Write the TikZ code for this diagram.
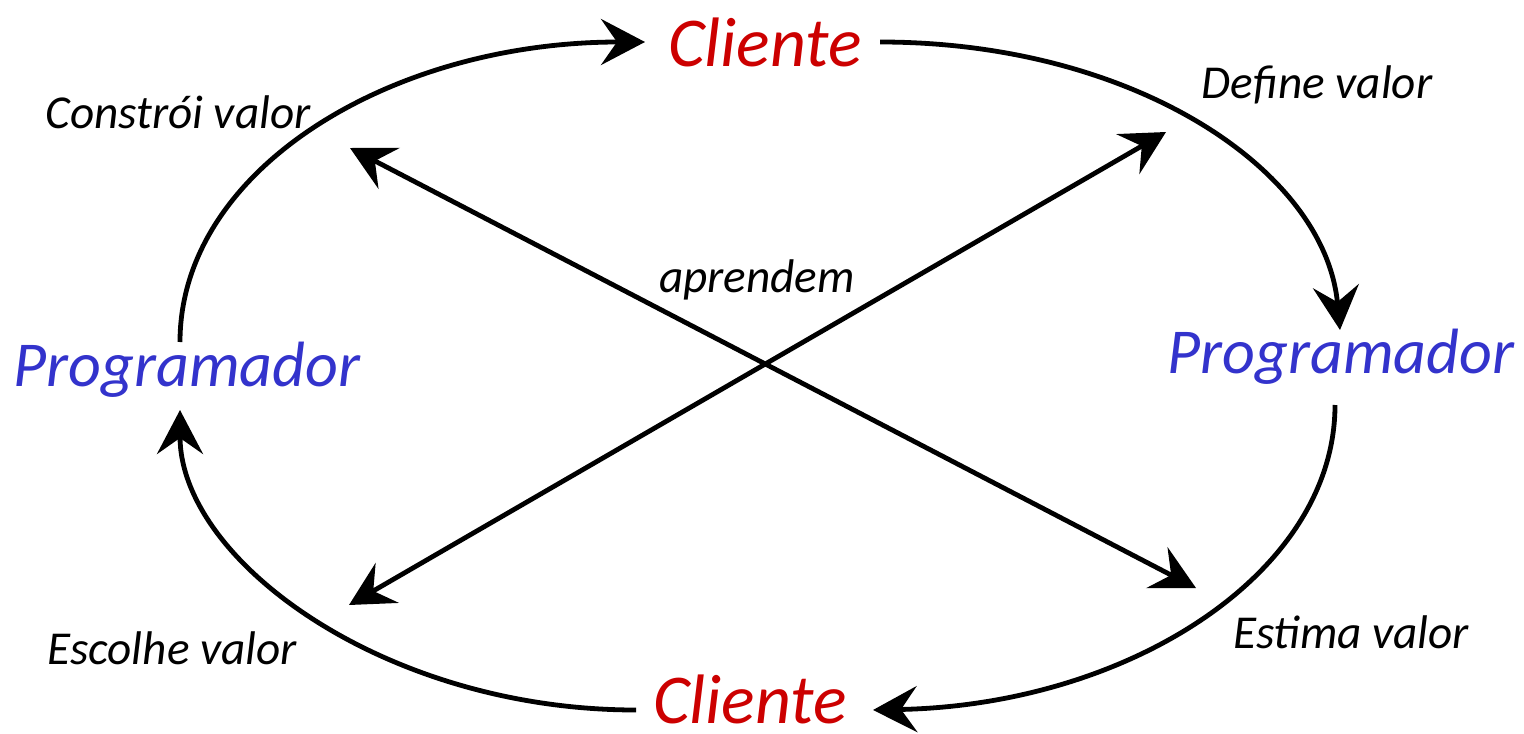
\documentclass[tikz,border=0pt]{standalone}
\usepackage{fontspec}
\setmainfont{Carlito}
\usetikzlibrary{arrows.meta}
\definecolor{cred}{HTML}{CC0000}
\definecolor{cblue}{HTML}{3333CC}
\begin{document}
\begin{tikzpicture}[x=0.5pt,y=-0.5pt,
  big/.style={font=\fontsize{35}{38}\selectfont\itshape, inner sep=0pt},
  bigp/.style={font=\fontsize{32}{35}\selectfont\itshape, inner sep=0pt},
  lbl/.style={font=\fontsize{23.6}{26}\selectfont\itshape, inner sep=0pt},
  conn/.style={line width=2.4pt, -{Stealth[length=22pt,width=23pt,inset=8pt]}},
  dconn/.style={line width=2.4pt, {Stealth[length=22pt,width=23pt,inset=8pt]}-{Stealth[length=22pt,width=23pt,inset=8pt]}}]
\useasboundingbox (0,0) rectangle (1524,733);
% main nodes
\node[big, text=cred] (ct) at (765,42) {Cliente};
\node[big, text=cred] (cb) at (750,699) {Cliente};
\node[bigp, text=cblue] (pl) at (187,370) {Programador};
\node[bigp, text=cblue] (pr) at (1341,357) {Programador};
% labels
\node[lbl] (l1) at (178,112) {Constrói valor};
\node[lbl] (l2) at (1317,85) {Define valor};
\node[lbl] (l3) at (757,280) {aprendem};
\node[lbl] (l4) at (172,648) {Escolhe valor};
\node[lbl] (l5) at (1351,632) {Estima valor};
% endpoints
\coordinate (a1) at (180,342);
\coordinate (a2) at (645,42);
\coordinate (b1) at (880,42);
\coordinate (b2) at (1340,330);
\coordinate (c1) at (1335,405);
\coordinate (c2) at (873,710);
\coordinate (d1) at (636,710);
\coordinate (d2) at (180,410);
\coordinate (x1) at (350,148);
\coordinate (x2) at (1196,588);
\coordinate (y1) at (1166,132);
\coordinate (y2) at (349,605);
% cycle
\draw[conn] (a1) .. controls (180,170) and (390,42) .. (a2);
\draw[conn] (b1) .. controls (1134,42) and (1325,170) .. (b2);
\draw[conn] (c1) .. controls (1335,573) and (1129,705) .. (c2);
\draw[conn] (d1) .. controls (384,710) and (180,560) .. (d2);
% diagonals
\draw[dconn] (x1) -- (x2);
\draw[dconn] (y1) -- (y2);
\end{tikzpicture}
\end{document}
